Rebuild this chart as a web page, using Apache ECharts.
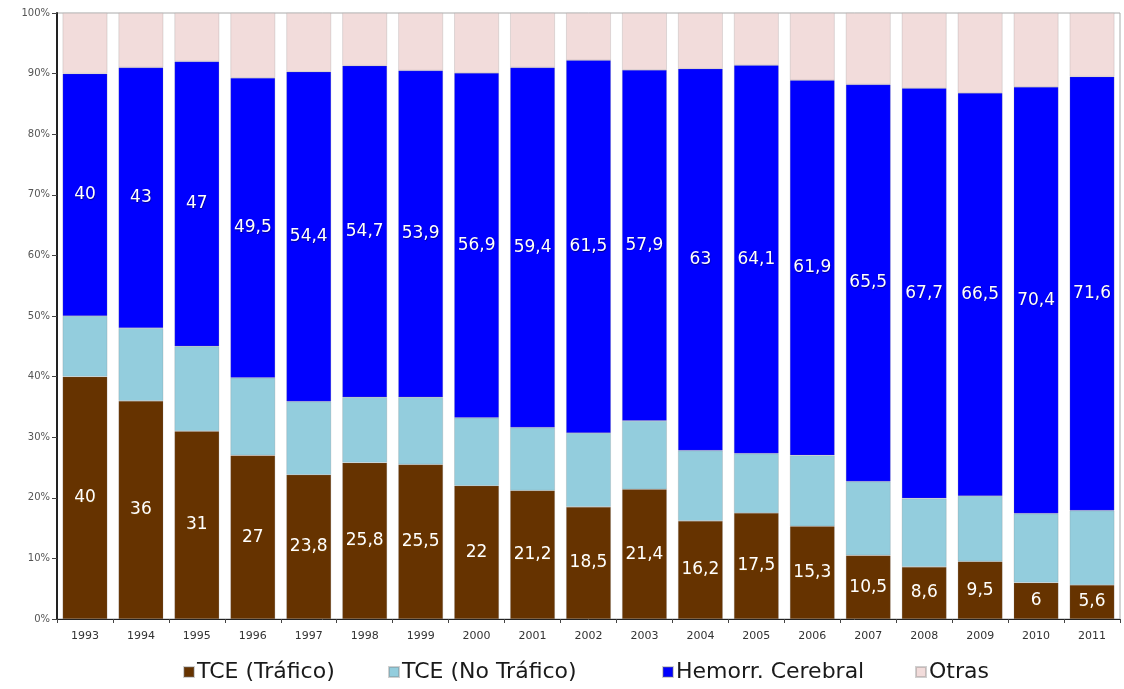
<!DOCTYPE html>
<html>
<head>
<meta charset="utf-8">
<script src="https://cdn.jsdelivr.net/npm/echarts@6/dist/echarts.min.js"></script>
<style>
  html, body { margin: 0; padding: 0; background: #ffffff; }
  #chart { width: 1124px; height: 689px; }
</style>
</head>
<body>
<div id="chart"></div>
<script>
// Years on the horizontal axis
const years = ['1993','1994','1995','1996','1997','1998','1999','2000','2001','2002',
               '2003','2004','2005','2006','2007','2008','2009','2010','2011'];

// Share of each cause per year (%)
const tceTrafico = [40, 36, 31, 27, 23.8, 25.8, 25.5, 22, 21.2, 18.5,
                    21.4, 16.2, 17.5, 15.3, 10.5, 8.6, 9.5, 6, 5.6];
const tceNoTrafico = [10, 12, 14, 12.8, 12.1, 10.8, 11.1, 11.2, 10.4, 12.2,
                      11.3, 11.6, 9.8, 11.7, 12.2, 11.3, 10.8, 11.4, 12.3];
const hemorrCerebral = [40, 43, 47, 49.5, 54.4, 54.7, 53.9, 56.9, 59.4, 61.5,
                        57.9, 63, 64.1, 61.9, 65.5, 67.7, 66.5, 70.4, 71.6];
const otras = [10, 9, 8, 10.7, 9.7, 8.7, 9.5, 9.9, 9.0, 7.8,
               9.4, 9.2, 8.6, 11.1, 11.8, 12.4, 13.2, 12.2, 10.5];

// Series names as shown in the legend
const seriesNames = ['TCE (Tráfico)', 'TCE (No Tráfico)', 'Hemorr. Cerebral', 'Otras'];

// Value-axis ticks
const yTicks = { min: 0, max: 100, interval: 10 };

const chart = echarts.init(document.getElementById('chart'), null, { renderer: 'canvas' });

const labelStyle = {
  show: true,
  position: 'inside',
  color: '#ffffff',
  fontFamily: 'DejaVu Sans',
  fontSize: 17,
  textShadowColor: 'rgba(120,70,0,0.7)',
  textShadowBlur: 1,
  textShadowOffsetX: 0.5,
  textShadowOffsetY: 0.5,
  formatter: p => String(p.value).replace('.', ',')
};

const barBase = {
  type: 'bar',
  stack: 'total',
  barCategoryGap: '20%',
  itemStyle: { borderColor: 'rgba(120,120,120,0.35)', borderWidth: 0.6 }
};

// One legend block per entry so each sits at its own spot on the bottom row
const legendLefts = [178, 383, 657, 910];
const legends = seriesNames.map((name, i) => ({
  data: [name],
  bottom: 1,
  left: legendLefts[i],
  itemWidth: 10,
  itemHeight: 10,
  icon: 'rect',
  selectedMode: false,
  textStyle: { fontFamily: 'DejaVu Sans', fontSize: 22, color: '#1a1a1a', padding: [0, 0, 0, -2] }
}));

chart.setOption({
  animation: false,
  backgroundColor: '#ffffff',
  grid: {
    left: 57, right: 4, top: 13, bottom: 70,
    show: true, borderColor: '#aaaaaa', borderWidth: 1
  },
  legend: legends,
  xAxis: {
    type: 'category',
    data: years,
    axisLine: { lineStyle: { color: '#222222', width: 1 } },
    axisTick: { show: true, inside: false, length: 4, alignWithLabel: false, lineStyle: { color: '#444444' } },
    axisLabel: { fontFamily: 'DejaVu Sans', fontSize: 11, color: '#333333', margin: 12 }
  },
  yAxis: {
    type: 'value',
    min: yTicks.min,
    max: yTicks.max,
    interval: yTicks.interval,
    splitLine: { show: false },
    axisLine: { show: true, lineStyle: { color: '#222222', width: 2 } },
    axisTick: { show: true, length: 5, lineStyle: { color: '#444444' } },
    axisLabel: { fontFamily: 'DejaVu Sans', fontSize: 10, color: '#555555', margin: 7, formatter: '{value}%' }
  },
  series: [
    Object.assign({}, barBase, {
      name: seriesNames[0], data: tceTrafico,
      itemStyle: Object.assign({}, barBase.itemStyle, { color: '#663300' }),
      label: labelStyle
    }),
    Object.assign({}, barBase, {
      name: seriesNames[1], data: tceNoTrafico,
      itemStyle: Object.assign({}, barBase.itemStyle, { color: '#93cddd' })
    }),
    Object.assign({}, barBase, {
      name: seriesNames[2], data: hemorrCerebral,
      itemStyle: Object.assign({}, barBase.itemStyle, { color: '#0000ff' }),
      label: Object.assign({}, labelStyle, { textShadowColor: 'rgba(0,0,60,0.6)' })
    }),
    Object.assign({}, barBase, {
      name: seriesNames[3], data: otras,
      itemStyle: Object.assign({}, barBase.itemStyle, { color: '#f2dcdb' })
    })
  ]
});
</script>
</body>
</html>
